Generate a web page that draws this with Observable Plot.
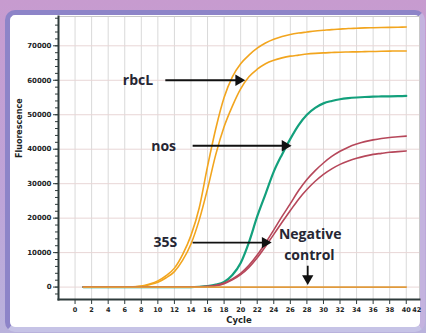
<!DOCTYPE html>
<html><head><meta charset="utf-8">
<script src="https://cdn.jsdelivr.net/npm/d3@7"></script>
<script src="https://cdn.jsdelivr.net/npm/@observablehq/plot@0.6"></script>
<style>
html,body{margin:0;padding:0;}
body{width:426px;height:333px;overflow:hidden;position:relative;background:linear-gradient(180deg,#c79bcf 0%,#bea4d8 60%,#b9b2dc 100%);}
#panel{position:absolute;left:5px;top:10px;width:420px;height:322px;box-sizing:border-box;border:5px solid #8d84c8;border-right-color:#c4b3df;border-bottom-color:#c6c3e6;border-radius:10px;background:#fff;}
#chart{position:absolute;left:0;top:0;}
</style></head>
<body><div id="panel"></div><div id="chart"></div>
<script>
const cycle = [1,2,3,4,5,6,7,8,9,10,11,12,13,14,15,16,17,18,19,20,21,22,23,24,25,26,27,28,29,30,31,32,33,34,35,36,37,38,39,40];
const rbcL_a = [0,0,0,0,0,0,50,300,900,1800,3300,5500,9500,15000,23000,35000,46000,55000,61000,64800,67300,69300,70800,71900,72700,73300,73700,74000,74300,74500,74700,74850,75000,75100,75200,75250,75300,75350,75400,75450];
const rbcL_b = [0,0,0,0,0,0,30,200,700,1400,2700,4500,7800,12500,19500,28500,38500,46500,52500,57500,61000,63200,64800,65800,66500,67000,67300,67600,67800,67950,68050,68150,68200,68250,68300,68350,68400,68450,68500,68500];
const nos = [0,0,0,0,0,0,0,0,0,0,0,0,0,0,100,300,700,1500,3500,7000,13000,20500,27000,33500,38500,43000,47000,50000,52000,53300,54000,54500,54800,55000,55150,55250,55300,55350,55400,55450];
const s35_a = [0,0,0,0,0,0,0,0,0,0,0,0,0,0,50,200,500,1200,2400,4000,6300,9300,12800,16600,20500,24200,28000,31200,33800,36000,37900,39400,40600,41500,42200,42700,43100,43400,43600,43800];
const s35_b = [0,0,0,0,0,0,0,0,0,0,0,0,0,0,30,150,400,1000,2100,3600,5700,8500,11800,15300,18800,22200,25500,28300,30700,32700,34300,35600,36600,37400,38000,38500,38800,39100,39300,39500];
const negative = [0,0,0,0,0,0,0,0,0,0,0,0,0,0,0,0,0,0,0,0,0,0,0,0,0,0,0,0,0,0,0,0,0,0,0,0,0,0,0,0];

const xTicks = [0,2,4,6,8,10,12,14,16,18,20,22,24,26,28,30,32,34,36,38,40];
const xExtraTick = [42];
const yTicks = [0,10000,20000,30000,40000,50000,60000,70000];
const yMinor = [-2000,0,2000,4000,6000,8000,10000,12000,14000,16000,18000,20000,22000,24000,26000,28000,30000,32000,34000,36000,38000,40000,42000,44000,46000,48000,50000,52000,54000,56000,58000,60000,62000,64000,66000,68000,70000,72000,74000,76000,78000];

// annotations (data coordinates)
const labels = [
  {text:"rbcL", x:7.6, y:59900},
  {text:"nos", x:10.7, y:40800},
  {text:"35S", x:10.9, y:12900},
  {text:"Negative", x:28.4, y:15300},
  {text:"control", x:28.3, y:9200}
];
const arrows = [
  {x1:10.9, y1:60000, x2:20.0, y2:60000, dir:"right"},
  {x1:14.2, y1:41000, x2:25.6, y2:41000, dir:"right"},
  {x1:14.2, y1:12900, x2:23.2, y2:12900, dir:"right"},
  {x1:28.1, y1:6200, x2:28.1, y2:1900, dir:"down"}
];

const series = [
  {name:"rbcL_a", values:rbcL_a, color:"#f2a51e", w:1.6},
  {name:"rbcL_b", values:rbcL_b, color:"#f2a51e", w:1.6},
  {name:"nos", values:nos, color:"#13a07c", w:2.2},
  {name:"s35_a", values:s35_a, color:"#b6475a", w:1.6},
  {name:"s35_b", values:s35_b, color:"#b6475a", w:1.6},
  {name:"negative", values:negative, color:"#e09a3c", w:1.6}
];
const rows = series.flatMap(s => s.values.map((v,i) => ({cycle:cycle[i], value:v, name:s.name, color:s.color, w:s.w})));

const tickFont = "DejaVu Sans, sans-serif";
const annFont = "Open Sans, sans-serif";

const chart = Plot.plot({
  width:426, height:333,
  marginLeft:58, marginRight:7, marginTop:16, marginBottom:34,
  x:{domain:[-2,41.6]},
  y:{domain:[-3600,78500]},
  style:{background:"transparent"},
  marks:[
    Plot.gridX(xTicks, {stroke:"#d9d9d9", strokeOpacity:1, strokeWidth:1}),
    Plot.gridY(yTicks, {stroke:"#e8d6d6", strokeOpacity:1, strokeWidth:1}),
    Plot.frame({stroke:"#c8c8c8"}),
    ...series.map(s => Plot.line(rows.filter(r => r.name === s.name), {x:"cycle", y:"value", stroke:s.color, strokeWidth:s.w, curve:"monotone-x"})),
    Plot.axisY(yMinor, {tickSize:3, text:null, stroke:"#2e3b3b", label:null}),
    Plot.axisY(yTicks, {tickSize:5, tickPadding:2, tickFormat:d3.format("d"), stroke:"#2e3b3b", fill:"#1c2424", fontSize:7, fontWeight:"bold", fontFamily:tickFont, label:null}),
    Plot.axisX(xTicks, {tickSize:5, tickPadding:3, tickFormat:d3.format("d"), stroke:"#2e3b3b", fill:"#1c2424", fontSize:6.5, fontWeight:"bold", fontFamily:tickFont, label:null}),
    Plot.axisX(xExtraTick, {tickSize:0, tickPadding:8, dx:-6, tickFormat:d3.format("d"), fill:"#1c2424", fontSize:6.5, fontWeight:"bold", fontFamily:tickFont, label:null}),
    Plot.frame({anchor:"left", stroke:"#2e3b3b", strokeWidth:2}),
    Plot.frame({anchor:"bottom", stroke:"#2e3b3b", strokeWidth:2}),
    Plot.text(["Fluorescence"], {frameAnchor:"left", dx:-39, rotate:-90, fontSize:8, fontWeight:"bold", fontFamily:tickFont, fill:"#1c2424"}),
    Plot.text(["Cycle"], {frameAnchor:"bottom", dy:23, fontSize:8.5, fontWeight:"bold", fontFamily:tickFont, fill:"#1c2424"}),
    Plot.text(labels, {x:"x", y:"y", text:"text", fontSize:14, fontWeight:"bold", fontFamily:annFont, fill:"#262633"}),
    Plot.link(arrows, {x1:"x1", y1:"y1", x2:"x2", y2:"y2", stroke:"#111", strokeWidth:1.8}),
    Plot.dot(arrows.filter(a => a.dir === "right"), {x:"x2", y:"y2", symbol:"triangle", r:4.2, rotate:90, fill:"#111", stroke:"none", dx:-2}),
    Plot.dot(arrows.filter(a => a.dir === "down"), {x:"x2", y:"y2", symbol:"triangle", r:4.2, rotate:180, fill:"#111", stroke:"none", dy:-2})
  ]
});
document.getElementById("chart").append(chart);
</script>
</body></html>
